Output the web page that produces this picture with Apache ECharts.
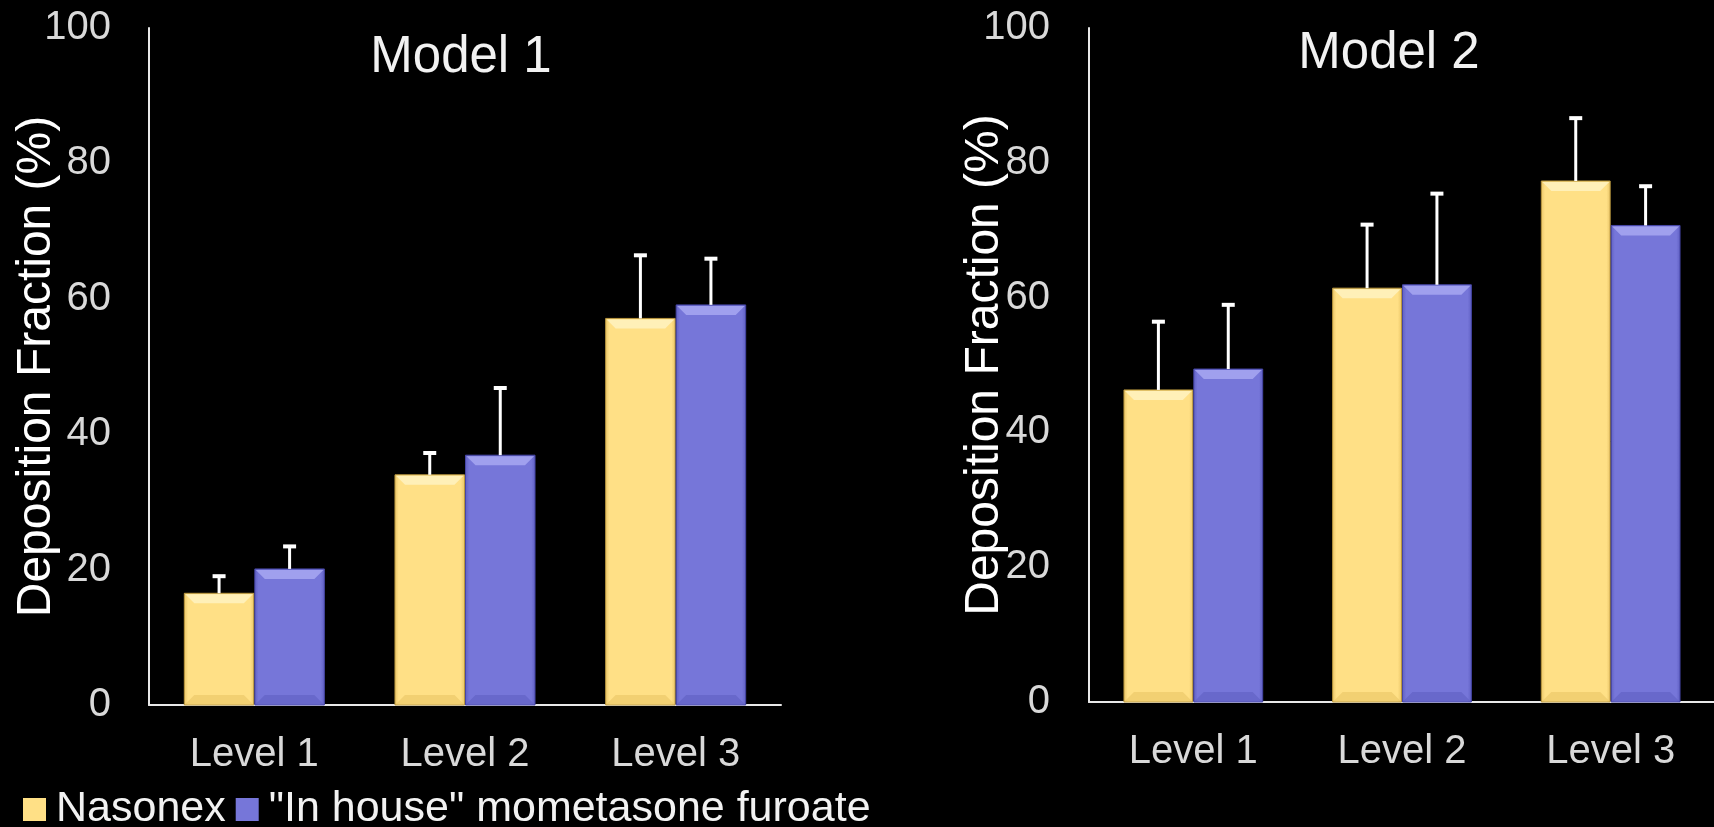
<!DOCTYPE html>
<html>
<head>
<meta charset="utf-8">
<script src="https://cdn.jsdelivr.net/npm/echarts@6/dist/echarts.min.js"></script>
<style>
html,body{margin:0;padding:0;background:#000;}
#chart{width:1714px;height:827px;}
</style>
</head>
<body>
<div id="chart"></div>
<script>
// ---- data ----
const categories = ['Level 1', 'Level 2', 'Level 3'];
const seriesNames = ['Nasonex', '"In house" mometasone furoate'];
const yTicks = [0, 20, 40, 60, 80, 100];
const panelTitles = ['Model 1', 'Model 2'];
// Model 1
const m1Nasonex = [16.5, 34.0, 57.1];
const m1NasonexSD = [2.6, 3.3, 9.4];
const m1InHouse = [20.1, 36.9, 59.1];
const m1InHouseSD = [3.4, 10.0, 6.9];
// Model 2
const m2Nasonex = [46.3, 61.4, 77.3];
const m2NasonexSD = [10.2, 9.5, 9.4];
const m2InHouse = [49.4, 61.9, 70.7];
const m2InHouseSD = [9.6, 13.6, 5.9];

// ---- styling ----
const FONT = 'Liberation Sans, Arial, sans-serif';
const palette = [
  {base: '#ffe086', light: '#fff0b8', dark: '#e9c466', edge: '#b8963e'},
  {base: '#7676d9', light: '#a0a0ee', dark: '#5f5fc2', edge: '#4646a6'}
];

function makeRender(idx) {
  const c = palette[idx];
  return function (params, api) {
    const cat = api.value(0), val = api.value(1), sd = api.value(2);
    const bandW = api.size([1, 0])[0];
    const bw = bandW * 0.33;
    const base = api.coord([cat, 0]);
    const x0 = idx === 0 ? base[0] - bw - 0.5 : base[0] + 0.5;
    const x1 = x0 + bw;
    const yB = base[1];
    const yT = api.coord([cat, val])[1];
    const yE = api.coord([cat, val + sd])[1];
    const h = yB - yT;
    const bev = Math.min(10, h / 2);
    const cx = (x0 + x1) / 2;
    return {
      type: 'group',
      children: [
        {type: 'rect', shape: {x: x0, y: yT, width: bw, height: h},
          style: {fill: new echarts.graphic.LinearGradient(0, 0, 1, 0, [
            {offset: 0, color: c.dark}, {offset: 0.06, color: c.base},
            {offset: 0.94, color: c.base}, {offset: 1, color: c.dark}]),
            stroke: c.edge, lineWidth: 1}},
        {type: 'polygon', shape: {points: [[x0 + 1, yT + 1], [x1 - 1, yT + 1], [x1 - bev, yT + bev], [x0 + bev, yT + bev]]},
          style: {fill: c.light}},
        {type: 'polygon', shape: {points: [[x0 + 1, yB - 1], [x1 - 1, yB - 1], [x1 - bev, yB - bev], [x0 + bev, yB - bev]]},
          style: {fill: c.dark, opacity: 0.6}},
        {type: 'line', shape: {x1: cx, y1: yT, x2: cx, y2: yE},
          style: {stroke: '#ffffff', lineWidth: 3}},
        {type: 'rect', shape: {x: cx - 6.5, y: yE - 1.5, width: 13, height: 4},
          style: {fill: '#ffffff'}}
      ]
    };
  };
}

function toData(vals, sds) {
  return vals.map((v, i) => [i, v, sds[i]]);
}

function mkSeries(name, idx, grid, vals, sds) {
  return {
    type: 'custom', name: name,
    xAxisIndex: grid, yAxisIndex: grid,
    renderItem: makeRender(idx),
    itemStyle: {color: palette[idx].base},
    encode: {x: 0, y: 1},
    data: toData(vals, sds),
    z: 2
  };
}

function mkX(grid) {
  return {
    type: 'category', gridIndex: grid, data: categories,
    axisLine: {show: true, lineStyle: {color: '#e8e8e8', width: 2}},
    axisTick: {show: false},
    axisLabel: {color: '#d9d9d9', fontSize: 40, fontFamily: FONT, margin: 30},
    splitLine: {show: false}
  };
}
function mkY(grid, gap, labMargin) {
  return {
    type: 'value', gridIndex: grid, min: yTicks[0], max: yTicks[yTicks.length - 1],
    interval: yTicks[1] - yTicks[0],
    name: 'Deposition Fraction (%)', nameLocation: 'middle', nameGap: gap,
    nameMoveOverlap: false,
    nameTextStyle: {color: '#ffffff', fontSize: 48, fontFamily: FONT},
    axisLine: {show: true, lineStyle: {color: '#e8e8e8', width: 2}},
    axisTick: {show: false},
    axisLabel: {color: '#d9d9d9', fontSize: 40, fontFamily: FONT, margin: labMargin},
    splitLine: {show: false}
  };
}

const chart = echarts.init(document.getElementById('chart'), null, {renderer: 'canvas'});
chart.setOption({
  backgroundColor: '#000000',
  animation: false,
  title: [
    {text: panelTitles[0], left: 461, top: 32, textAlign: 'center', padding: 0,
      textStyle: {color: '#f2f2f2', fontSize: 51, fontWeight: 'normal', fontFamily: FONT}},
    {text: panelTitles[1], left: 1389, top: 28, textAlign: 'center', padding: 0,
      textStyle: {color: '#f2f2f2', fontSize: 51, fontWeight: 'normal', fontFamily: FONT}}
  ],
  legend: {
    data: seriesNames, left: 23, top: 788, padding: 0,
    itemWidth: 33, itemHeight: 23, itemGap: 10,
    icon: 'path://M0,0h10v10h-10z',
    textStyle: {color: '#f2f2f2', fontSize: 43, fontFamily: FONT},
    selectedMode: false
  },
  grid: [
    {left: 149, top: 28, width: 632, height: 677, outerBoundsMode: 'none', containLabel: false},
    {left: 1089, top: 28, width: 626, height: 674, outerBoundsMode: 'none', containLabel: false}
  ],
  xAxis: [mkX(0), mkX(1)],
  yAxis: [mkY(0, 88, 38), mkY(1, 80, 39)],
  series: [
    mkSeries(seriesNames[0], 0, 0, m1Nasonex, m1NasonexSD),
    mkSeries(seriesNames[1], 1, 0, m1InHouse, m1InHouseSD),
    mkSeries(seriesNames[0], 0, 1, m2Nasonex, m2NasonexSD),
    mkSeries(seriesNames[1], 1, 1, m2InHouse, m2InHouseSD)
  ]
});
</script>
</body>
</html>
